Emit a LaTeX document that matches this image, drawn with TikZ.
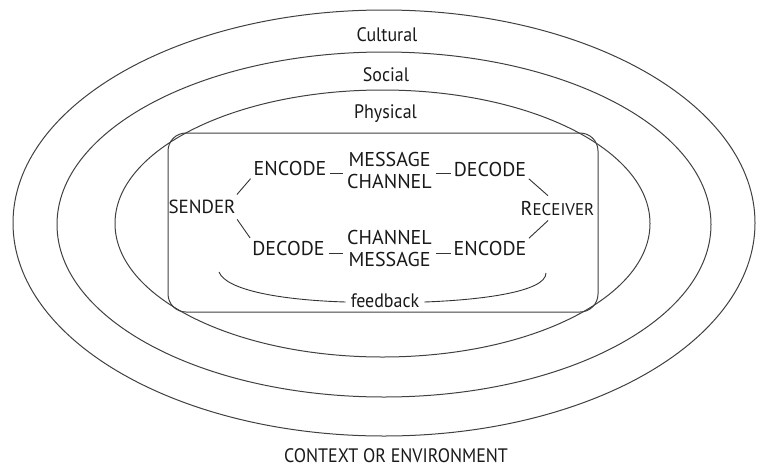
\documentclass[tikz,border=0pt]{standalone}
\usepackage{fontspec}
\setmainfont[FakeStretch=0.92]{PT Sans}
\newfontfamily\capsf{PT Sans}
\begin{document}
\begin{tikzpicture}[x=1pt,y=-1pt,
  lbl/.style={inner sep=1pt,font=\fontsize{19.5}{19.5}\selectfont,text=black!90},
  capnode/.style={lbl,font=\capsf\fontsize{20}{20}\selectfont},
  two/.style={lbl,align=center,font=\capsf\fontsize{20}{22}\selectfont},
  ring/.style={draw=black!75,line width=1pt},
  conn/.style={draw=black!80,line width=0.9pt}]
\useasboundingbox (0,0) rectangle (757,466);
% ellipses
\draw[ring] (384,223) ellipse [x radius=371, y radius=213];
\draw[ring] (384,224.5) ellipse [x radius=327, y radius=172.5];
\draw[ring] (382.5,223.5) ellipse [x radius=267.5, y radius=133.5];
% rounded box
\draw[ring,rounded corners=18pt] (168,133) rectangle (598,312);
% ring labels
\node[lbl,anchor=base] (cult) at (387,41) {Cultural};
\node[lbl,anchor=base] (soc) at (386,81) {Social};
\node[lbl,anchor=base] (phys) at (385.5,118) {Physical};
\node[lbl,anchor=base] (ctx) at (396,462) {CONTEXT OR ENVIRONMENT};
% inner nodes
\node[capnode,anchor=base,font=\capsf\fontsize{19}{19}\selectfont] (sender) at (202,213) {SENDER};
\node[capnode,anchor=base] (receiver) at (557.5,215) {R\fontsize{17}{17}\selectfont ECEIVER};
\node[capnode,anchor=base] (enc1) at (290,175) {ENCODE};
\node[two] (mc) at (389.5,170) {MESSAGE\\CHANNEL};
\node[capnode,anchor=base] (dec1) at (490,176) {DECODE};
\node[capnode,anchor=base] (dec2) at (288.5,255) {DECODE};
\node[two] (cm) at (389.5,248.5) {CHANNEL\\MESSAGE};
\node[capnode,anchor=base] (enc2) at (490,255) {ENCODE};
\node[lbl,anchor=base] (fb) at (385,307) {feedback};
% connectors
\draw[conn,shorten <=3pt,shorten >=3pt] ([yshift=2pt]enc1.base east) -- ([yshift=2pt]enc1.base east -| mc.west);
\draw[conn,shorten <=3pt,shorten >=2pt] ([yshift=3pt]dec1.base west -| mc.east) -- ([yshift=3pt]dec1.base west);
\draw[conn,shorten <=3pt,shorten >=3pt] ([yshift=2pt]dec2.base east) -- ([yshift=2pt]dec2.base east -| cm.west);
\draw[conn,shorten <=3pt,shorten >=2pt] ([yshift=2pt]enc2.base west -| cm.east) -- ([yshift=2pt]enc2.base west);
\draw[conn,shorten <=5pt,shorten >=3pt] ([xshift=-3pt]sender.north east) -- (enc1.south west);
\draw[conn,shorten <=6pt,shorten >=2pt] ([xshift=-3pt]sender.south east) -- (dec2.north west);
\draw[conn,shorten <=2pt,shorten >=6pt] (dec1.south east) -- ([xshift=-5pt]receiver.north);
\draw[conn,shorten <=2pt,shorten >=6pt] (enc2.north east) -- ([xshift=-5pt]receiver.south);
\coordinate (fbl) at (219,272);
\coordinate (fbr) at (546,273);
\draw[conn] (fbl) .. controls (226,290) and (280,300) .. ([xshift=-4pt,yshift=5pt]fb.base west);
\draw[conn] ([xshift=4pt,yshift=5pt]fb.base east) .. controls (480,300) and (546,292) .. (fbr);
\end{tikzpicture}
\end{document}
